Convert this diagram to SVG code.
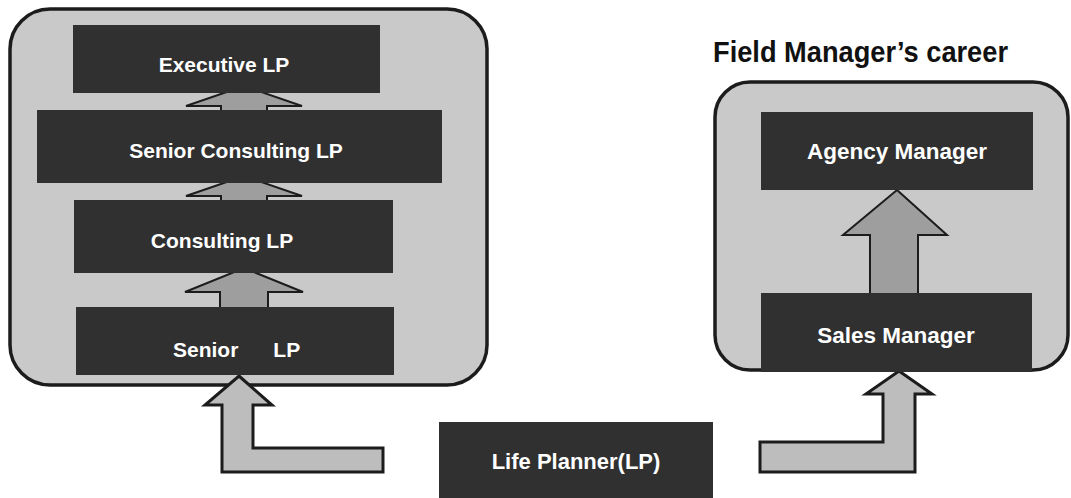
<svg xmlns="http://www.w3.org/2000/svg" width="1071" height="498" viewBox="0 0 1071 498">
<style>
.panel{fill:#c9c9c9;stroke:#1c1c1c;stroke-width:3.5}
.box{fill:#303030}
.lbl{font-family:"Liberation Sans",Arial,sans-serif;font-weight:bold;fill:#ffffff;text-anchor:middle}
.arr{fill:#9e9e9e;stroke:#1c1c1c;stroke-width:2;stroke-linejoin:miter}
.larr{fill:#bdbdbd;stroke:#1c1c1c;stroke-width:3;stroke-linejoin:miter}
.title{font-family:"Liberation Sans",Arial,sans-serif;font-weight:bold;fill:#111111}
</style>
<rect width="1071" height="498" fill="#ffffff"/>
<g id="lp-career-panel">
<rect class="panel" x="10" y="9" width="477" height="376" rx="40" ry="40"/>
</g>
<g id="fm-career-panel">
<rect class="panel" x="715" y="82" width="353" height="288" rx="35" ry="35"/>
</g>
<g id="connectors">
<polygon class="arr" points="244,86 302,106 267,106 267,115 221,115 221,106 186,106"/>
<polygon class="arr" points="244,176 302,196 267,196 267,205 221,205 221,196 186,196"/>
<polygon class="arr" points="244,268 303,292 268,292 268,312 220,312 220,292 185,292"/>
<polygon class="larr" points="239,376 272,405 253,405 253,448 383,448 383,472 222,472 222,405 205,405"/>
<polygon class="arr" points="897,190 947,235 918,235 918,296 870,296 870,235 843,235"/>
<polygon class="larr" points="899,371 932,394 915,394 915,472 760,472 760,442 883,442 883,394 866,394"/>
</g>
<g id="executive-lp">
<rect class="box" x="73" y="25" width="307" height="68"/>
<text class="lbl" x="224" y="72" font-size="21">Executive LP</text>
</g>
<g id="senior-consulting-lp">
<rect class="box" x="37" y="110" width="405" height="73"/>
<text class="lbl" x="236" y="158" font-size="21">Senior Consulting LP</text>
</g>
<g id="consulting-lp">
<rect class="box" x="74" y="200" width="319" height="73"/>
<text class="lbl" x="222" y="248" font-size="21">Consulting LP</text>
</g>
<g id="senior-lp">
<rect class="box" x="76" y="307" width="318" height="68"/>
<text class="lbl" x="173" y="357" font-size="21" style="text-anchor:start;white-space:pre" xml:space="preserve">Senior      LP</text>
</g>
<g id="agency-manager">
<rect class="box" x="761" y="112" width="272" height="78"/>
<text class="lbl" x="897" y="159" font-size="22.5">Agency Manager</text>
</g>
<g id="sales-manager">
<rect class="box" x="761" y="293" width="271" height="79"/>
<text class="lbl" x="896" y="343" font-size="22.5">Sales Manager</text>
</g>
<g id="life-planner">
<rect class="box" x="439" y="422" width="274" height="76"/>
<text class="lbl" x="576" y="469" font-size="22">Life Planner(LP)</text>
</g>
<g id="title">
<text class="title" x="713" y="62" font-size="29" textLength="295" lengthAdjust="spacingAndGlyphs">Field Manager’s career</text>
</g>
</svg>
